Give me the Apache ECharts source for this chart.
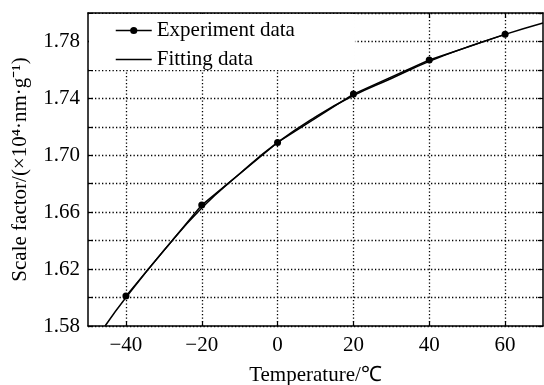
<!DOCTYPE html>
<html>
<head>
<meta charset="utf-8">
<script src="https://cdn.jsdelivr.net/npm/echarts@6/dist/echarts.min.js"></script>
<style>
html,body{margin:0;padding:0;background:#fff;}
#chart{width:544px;height:385px;}
</style>
</head>
<body>
<div id="chart"></div>
<script>
var expTemps = [-40, -20, 0, 20, 40, 60];
var expValues = [1.601, 1.665, 1.709, 1.743, 1.767, 1.785];
var fitTemps = [-45.5, -40, -30, -20, -10, 0, 10, 20, 30, 40, 50, 60, 70];
var fitValues = [1.580, 1.600, 1.633, 1.663, 1.687, 1.709, 1.727, 1.742, 1.754, 1.766, 1.776, 1.785, 1.793];
var xTicks = [-40, -20, 0, 20, 40, 60];
var yTickLabels = ['1.58', '1.62', '1.66', '1.70', '1.74', '1.78'];
var seriesNames = ['Experiment data', 'Fitting data'];
var xName = 'Temperature/\u2103';
var yName = 'Scale factor/(\u00d710\u2074\u00b7nm\u00b7g\u207b\u00b9)';

var FONT = '"Liberation Serif", "Times New Roman", serif';
var FS = 21;
var chart = echarts.init(document.getElementById('chart'));

function pairs(xs, ys) { return xs.map(function (x, i) { return [x, ys[i]]; }); }

var axisLineStyle = { color: '#000', width: 1.5 };
var gridDot = { color: '#000', width: 1.3, type: [1.3, 2.2] };
var tickStyle = { color: '#000', width: 1.2 };

chart.setOption({
  animation: false,
  backgroundColor: '#fff',
  textStyle: { fontFamily: FONT },
  grid: { left: 88, right: 1, top: 13, bottom: 59, containLabel: false, outerBoundsMode: 'none' },
  legend: {
    orient: 'vertical',
    left: 89, top: 14,
    padding: [6, 60, 0, 26],
    backgroundColor: '#fff',
    itemWidth: 36, itemHeight: 9, itemGap: 8,
    lineStyle: { width: 1.5, color: '#000' },
    textStyle: { fontFamily: FONT, fontSize: FS, color: '#000', lineHeight: 21 },
    data: [
      { name: seriesNames[0] },
      { name: seriesNames[1], itemStyle: { color: 'rgba(0,0,0,0)', borderWidth: 0, opacity: 0 } }
    ]
  },
  xAxis: [{
    type: 'value', min: -50, max: 70, position: 'bottom',
    name: xName, nameLocation: 'middle', nameGap: 39,
    nameTextStyle: { fontFamily: FONT, fontSize: FS, color: '#000' },
    axisLine: { onZero: false, lineStyle: axisLineStyle },
    axisTick: { inside: true, length: 5, customValues: xTicks, lineStyle: tickStyle },
    axisLabel: { customValues: xTicks, margin: 9, fontFamily: FONT, fontSize: FS, color: '#000',
      formatter: function (v) { return String(v).replace('-', '\u2212'); } },
    splitLine: { show: true, lineStyle: gridDot }
  }, {
    type: 'value', min: -50, max: 70, position: 'top',
    axisLine: { onZero: false, lineStyle: axisLineStyle },
    axisTick: { inside: true, length: 5, customValues: xTicks, lineStyle: tickStyle },
    axisLabel: { show: false },
    splitLine: { show: false }
  }],
  yAxis: [{
    type: 'value', min: 1.58, max: 1.80, interval: 0.02, position: 'left',
    name: yName, nameLocation: 'middle', nameGap: 57, nameRotate: 90,
    nameTextStyle: { fontFamily: FONT, fontSize: FS, color: '#000' },
    axisLine: { show: true, onZero: false, lineStyle: axisLineStyle },
    axisTick: { show: true, inside: true, length: 5, lineStyle: tickStyle },
    axisLabel: { margin: 8, fontFamily: FONT, fontSize: FS, color: '#000', showMaxLabel: true,
      formatter: function (v) { var s = v.toFixed(2); return yTickLabels.indexOf(s) >= 0 ? s : ''; } },
    splitLine: { show: true, lineStyle: gridDot }
  }, {
    type: 'value', min: 1.58, max: 1.80, interval: 0.02, position: 'right',
    axisLine: { show: true, onZero: false, lineStyle: axisLineStyle },
    axisTick: { show: true, inside: true, length: 5, lineStyle: tickStyle },
    axisLabel: { show: false },
    splitLine: { show: false }
  }],
  series: [{
    name: seriesNames[0], type: 'line',
    data: pairs(expTemps, expValues),
    symbol: 'circle', symbolSize: 7,
    itemStyle: { color: '#000' },
    lineStyle: { color: '#000', width: 1.5 },
    z: 3
  }, {
    name: seriesNames[1], type: 'line',
    data: pairs(fitTemps, fitValues),
    smooth: true, symbol: 'none',
    itemStyle: { color: '#000' },
    lineStyle: { color: '#000', width: 1.5 },
    z: 2
  }]
});
</script>
</body>
</html>
